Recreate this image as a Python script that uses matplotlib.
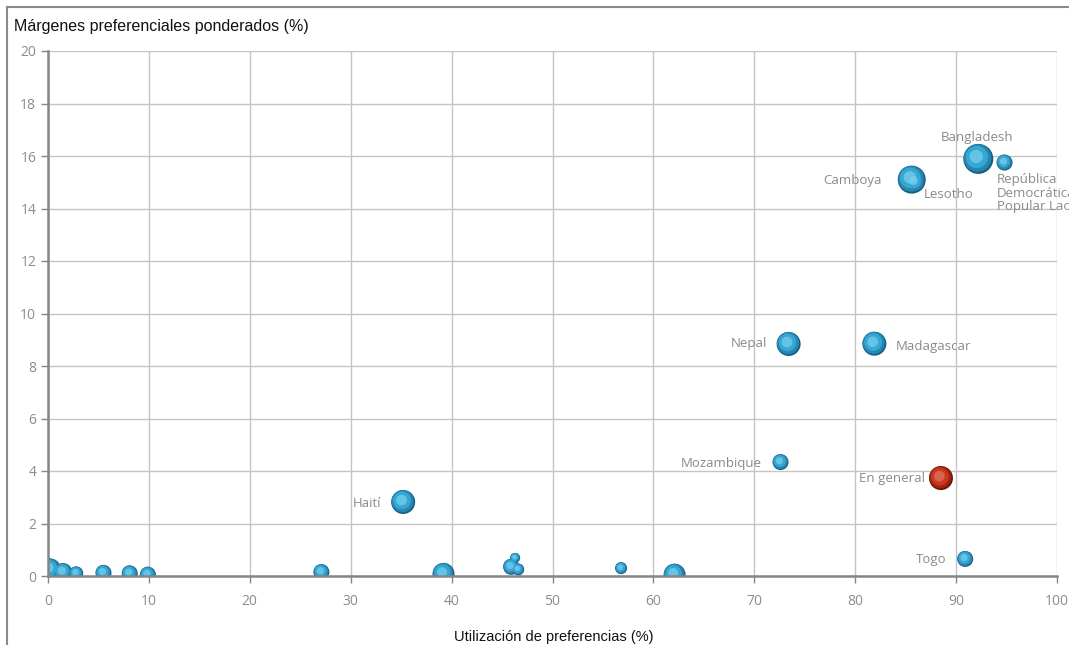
import matplotlib
matplotlib.use("Agg")
import matplotlib.pyplot as plt
from matplotlib.patches import Rectangle

# Data
countries = ["", "", "", "", "", "", "", "Haití", "", "", "", "", "", "",
             "Mozambique", "Nepal", "Madagascar", "En general", "Togo",
             "Camboya", "Lesotho", "Bangladesh", "República\nDemocrática\nPopular Lao"]
utilization = [0.2, 1.5, 2.8, 5.5, 8.1, 9.9, 27.1, 35.2, 39.2, 46.3, 45.9, 46.6, 56.8, 62.1,
               72.6, 73.4, 81.9, 88.5, 90.9, 85.6, 85.9, 92.2, 94.8]
margins = [0.25, 0.15, 0.1, 0.12, 0.1, 0.05, 0.15, 2.82, 0.08, 0.69, 0.35, 0.25, 0.3, 0.05,
           4.34, 8.84, 8.85, 3.73, 0.65, 15.1, 15.0, 15.89, 15.75]
radius_px = [11, 9, 7, 8, 8, 8, 8, 12, 11, 5, 8, 6, 6, 11,
             8, 12, 12, 12, 8, 14, 10, 15, 8]
is_overall = [n == "En general" for n in countries]

# label positions (data coords) and alignment
labels = {
    "Haití": (33.0, 2.78, "right"),
    "Mozambique": (70.7, 4.30, "right"),
    "Nepal": (71.3, 8.84, "right"),
    "Madagascar": (84.0, 8.76, "left"),
    "En general": (86.9, 3.70, "right"),
    "Togo": (89.0, 0.61, "right"),
    "Camboya": (82.6, 15.05, "right"),
    "Lesotho": (86.8, 14.55, "left"),
    "Bangladesh": (92.1, 16.72, "center"),
    "República\nDemocrática\nPopular Lao": (94.05, 14.59, "left"),
}

W, H = 1069, 645
fig = plt.figure(figsize=(W / 100, H / 100), dpi=100)
fig.patch.set_facecolor("white")

# chart frame
fig.patches.append(Rectangle((7 / W, -0.1), 1.2, (H - 7) / H + 0.1, transform=fig.transFigure,
                             fill=False, edgecolor="#8a8a8a", linewidth=1.5, zorder=0))

ax = fig.add_axes([48 / W, (H - 576) / H, (1057 - 48) / W, (576 - 51) / H])
ax.set_xlim(0, 100)
ax.set_ylim(0, 20)
ax.set_xticks(range(0, 101, 10))
ax.set_yticks(range(0, 21, 2))
ax.grid(True, color="#c4c4c4", linewidth=1.0)
ax.set_axisbelow(True)
for s in ["top", "right"]:
    ax.spines[s].set_visible(False)
for s in ["left", "bottom"]:
    ax.spines[s].set_color("#858585")
    ax.spines[s].set_linewidth(1.8)
    ax.spines[s].set_zorder(9)
ax.tick_params(colors="#858585", labelcolor="#8c8c8c", labelsize=10, length=5, width=1)
for lab in ax.get_xticklabels() + ax.get_yticklabels():
    lab.set_family("Open Sans")
ax.tick_params(axis="x", pad=8)

# bubbles with simple 3D look
for x, y, r, ov in zip(utilization, margins, radius_px, is_overall):
    if ov:
        base, mid, hi, dark = "#a0220f", "#c6391f", "#e0735a", "#6a1206"
    else:
        base, mid, hi, dark = "#2586b3", "#38a6d2", "#74cfec", "#175e82"
    s = (2 * r * 72 / 100) ** 2
    dx = r * 0.012
    dy = r * 0.006
    ax.scatter([x], [y], s=s, color=dark, edgecolors="none", zorder=3)
    ax.scatter([x - dx * 0.4], [y + dy * 0.4], s=s * 0.85, color=base, edgecolors="none", zorder=4)
    ax.scatter([x - dx * 0.8], [y + dy * 0.8], s=s * 0.55, color=mid, edgecolors="none", zorder=5)
    ax.scatter([x - dx * 1.1], [y + dy * 1.0], s=s * 0.2, color=hi, edgecolors="none",
               zorder=6, alpha=0.75)

for name, (tx, ty, ha) in labels.items():
    ax.text(tx, ty, name, ha=ha, va="center", fontsize=9.5, color="#8a8a8a",
            family="Open Sans", linespacing=1.05, clip_on=False, zorder=7)

fig.text(14 / W, 1 - 27 / H, "Márgenes preferenciales ponderados (%)", ha="left", va="center",
         fontsize=11.5, color="#111111", family="Liberation Sans")
fig.text(554 / W, 1 - 637 / H, "Utilización de preferencias (%)", ha="center", va="center",
         fontsize=10.5, color="#111111", family="Liberation Sans")

fig.savefig("out.png", dpi=100)
